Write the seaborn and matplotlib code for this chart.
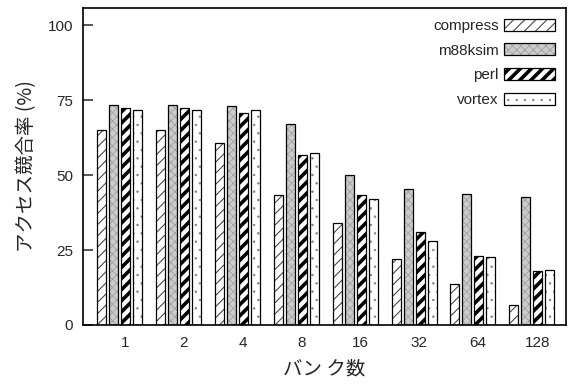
import matplotlib
matplotlib.use("Agg")
import matplotlib.pyplot as plt
import matplotlib.patches as mpatches
from matplotlib.colors import to_rgba
import seaborn as sns
import pandas as pd

banks = ["1", "2", "4", "8", "16", "32", "64", "128"]
compress = [65.0, 65.0, 60.7, 43.3, 34.1, 21.9, 13.6, 6.7]
m88ksim = [73.5, 73.5, 73.0, 67.0, 50.0, 45.2, 43.6, 42.8]
perl = [72.3, 72.2, 70.7, 56.7, 43.3, 31.0, 23.0, 18.0]
vortex = [71.7, 71.7, 71.7, 57.2, 42.1, 27.9, 22.8, 18.3]
series_names = ["compress", "m88ksim", "perl", "vortex"]
y_ticks = [0, 25, 50, 75, 100]

sns.set_style("white")
plt.rcParams["font.family"] = ["Liberation Sans", "Noto Sans CJK JP", "DejaVu Sans"]

rows = []
for name, vals in zip(series_names, [compress, m88ksim, perl, vortex]):
    for b, v in zip(banks, vals):
        rows.append({"bank": b, "series": name, "value": v})
df = pd.DataFrame(rows)

fig = plt.figure(figsize=(5.71, 3.87), dpi=100)
ax = fig.add_axes([83 / 571, 62 / 387, (566 - 83) / 571, (325 - 8) / 387])

sns.barplot(data=df, x="bank", y="value", hue="series", order=banks,
            hue_order=series_names, palette=["white"] * 4, width=0.815,
            gap=0.25, legend=False, ax=ax, edgecolor="black", linewidth=0.9)

styles = {
    "compress": dict(face="white", hatch="///", hcolor="#404040", hlw=0.75),
    "m88ksim": dict(face="#cccccc", hatch="xxxx", hcolor="#a0a0a0", hlw=0.6),
    "perl": dict(face="white", hatch="///", hcolor="black", hlw=2.6),
    "vortex": dict(face="white", hatch="..", hcolor="#808080", hlw=0.5),
}


def style_patch(p, st):
    p.set_facecolor(st["face"])
    p.set_hatch(st["hatch"])
    p.set_edgecolor("black")
    p._hatch_color = to_rgba(st["hcolor"])
    if hasattr(p, "set_hatch_linewidth"):
        p.set_hatch_linewidth(st["hlw"])
    else:
        p._hatch_linewidth = st["hlw"]


for cont, name in zip(ax.containers, series_names):
    for p in cont:
        style_patch(p, styles[name])

handles = []
for name in series_names:
    h = mpatches.Patch(label=name, linewidth=0.9)
    style_patch(h, styles[name])
    handles.append(h)
leg = ax.legend(handles=handles, loc="upper right", frameon=False, markerfirst=False,
                fontsize=11, handlelength=3.35, handleheight=0.83, labelspacing=0.68,
                handletextpad=0.35, borderaxespad=0.3, borderpad=0.4)
for p, name in zip(leg.get_patches(), series_names):
    style_patch(p, styles[name])

ax.set_xlim(-0.62, 7.58)
ax.set_ylim(0, 105.7)
ax.set_yticks(y_ticks)
ax.set_xticks([i + 0.09 for i in range(len(banks))])
ax.set_xticklabels(banks)
ax.tick_params(axis="y", direction="in", length=7, width=1.1, pad=7, labelsize=11, left=True)
ax.tick_params(axis="x", length=0, pad=8, labelsize=11)
for s in ax.spines.values():
    s.set_visible(True)
    s.set_linewidth(1.2)
    s.set_color("black")

ax.set_xlabel("バン ク数", fontsize=14, family=["Noto Sans CJK JP"], labelpad=6)
ax.set_ylabel("アクセス競合率 (%)", fontsize=14, family=["Noto Sans CJK JP", "Liberation Sans"], labelpad=8)

fig.savefig("out.png", dpi=100)
